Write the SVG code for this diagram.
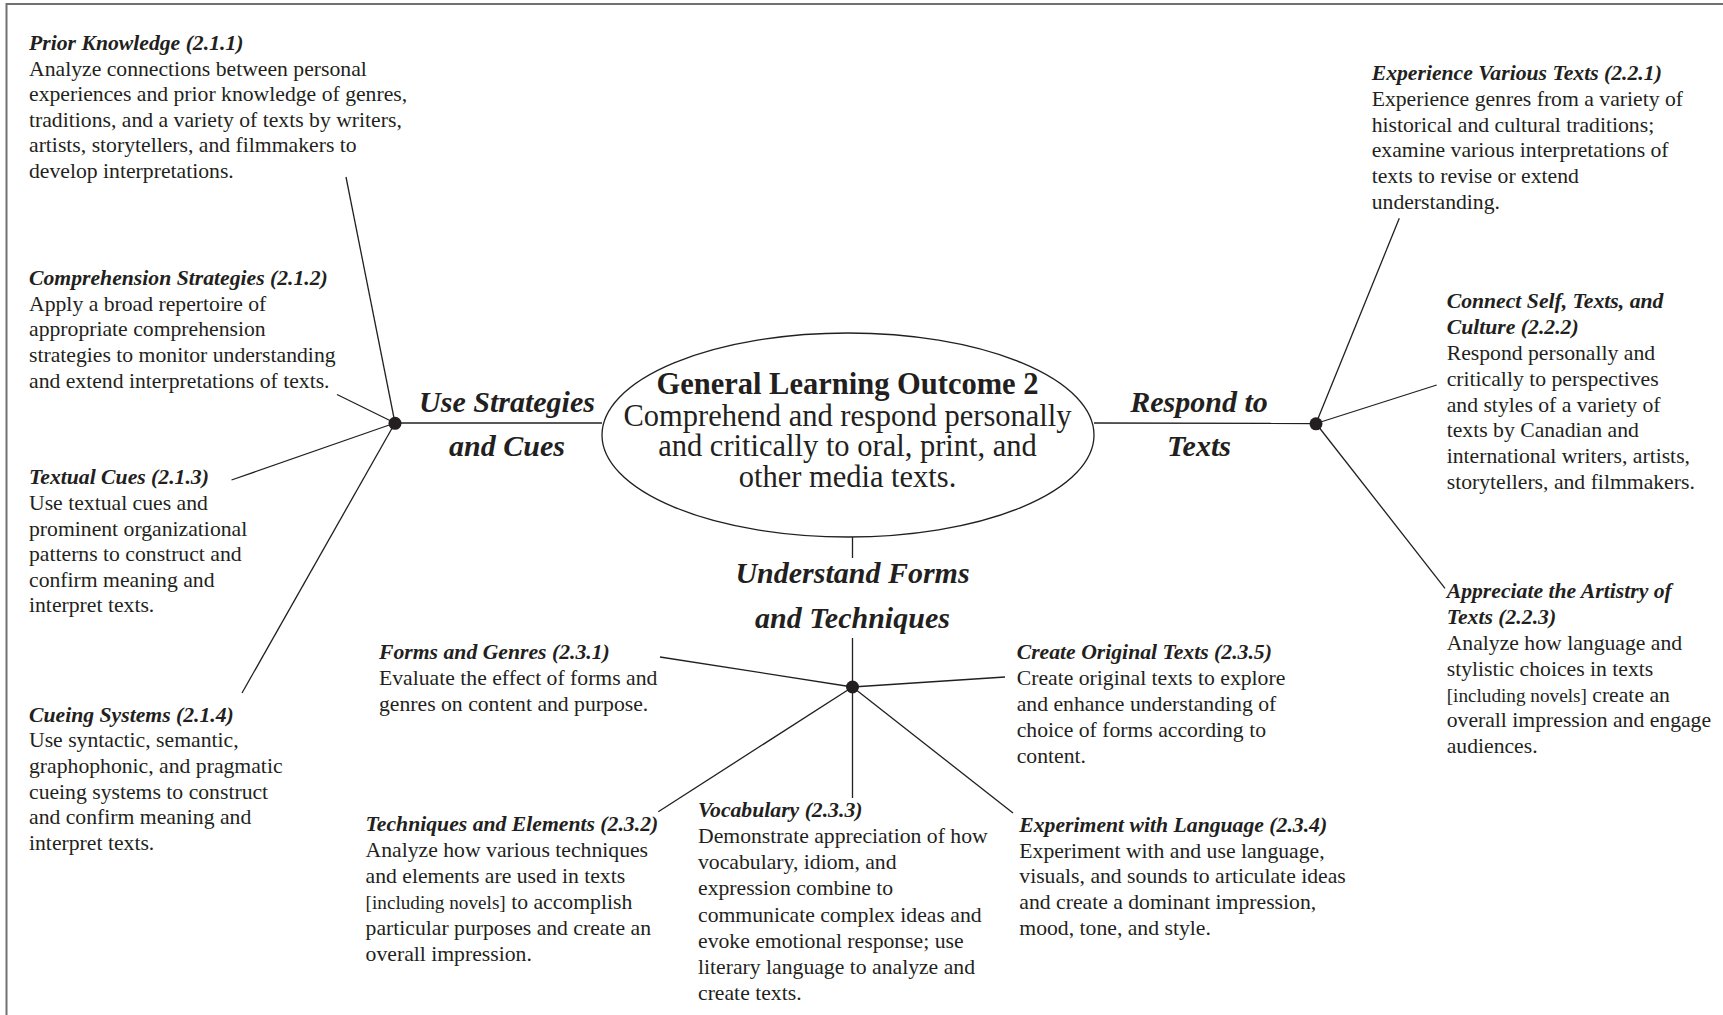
<svg xmlns="http://www.w3.org/2000/svg" width="1723" height="1015" viewBox="0 0 1723 1015">
<style>
text{font-family:"Liberation Serif","Times New Roman",serif;fill:#231f20}
.t{font-size:21.7px;font-weight:bold;font-style:italic}
.b{font-size:21.7px}
.s{font-size:19.2px}
.br{font-size:30px;font-weight:bold;font-style:italic;text-anchor:middle}
.ct{font-size:30.5px;text-anchor:middle}
.ln{stroke:#231f20;stroke-width:1.3;fill:none}
.dot{fill:#231f20}
</style>
<rect x="6.5" y="4" width="1800" height="1100" fill="#fff" stroke="#707070" stroke-width="2"/>

<g id="connectors">
<line class="ln" x1="346" y1="177" x2="395" y2="423"/>
<line class="ln" x1="337" y1="394.5" x2="395" y2="423"/>
<line class="ln" x1="231.5" y1="480" x2="395" y2="423"/>
<line class="ln" x1="242" y1="693" x2="395" y2="423"/>
<line class="ln" x1="395" y1="423" x2="602" y2="423"/>
<line class="ln" x1="1094" y1="423" x2="1316" y2="423.5"/>
<line class="ln" x1="1399.3" y1="218.3" x2="1316" y2="423.5"/>
<line class="ln" x1="1436.7" y1="385" x2="1316" y2="423.5"/>
<line class="ln" x1="1445" y1="588.3" x2="1316" y2="423.5"/>
<line class="ln" x1="852.5" y1="537" x2="852.5" y2="558"/>
<line class="ln" x1="852.5" y1="638" x2="852.5" y2="687"/>
<line class="ln" x1="660" y1="657" x2="852.5" y2="687"/>
<line class="ln" x1="1005" y1="677" x2="852.5" y2="687"/>
<line class="ln" x1="658.3" y1="811.7" x2="852.5" y2="687"/>
<line class="ln" x1="852.5" y1="798" x2="852.5" y2="687"/>
<line class="ln" x1="1013" y1="813" x2="852.5" y2="687"/>
<circle class="dot" cx="395" cy="423.3" r="6.5"/>
<circle class="dot" cx="1316" cy="423.8" r="6.5"/>
<circle class="dot" cx="852.5" cy="687" r="6.5"/>
</g>

<g id="center">
<ellipse cx="848" cy="435" rx="246" ry="102" fill="#fff" stroke="#231f20" stroke-width="1.3"/>
<text class="ct" x="847.5" y="394" font-weight="bold">General Learning Outcome 2</text>
<text class="ct" x="847.5" y="425.5">Comprehend and respond personally</text>
<text class="ct" x="847.5" y="456">and critically to oral, print, and</text>
<text class="ct" x="847.5" y="486.5">other media texts.</text>
</g>

<g id="branch-strategies">
<text class="br" x="507" y="411.7">Use Strategies</text>
<text class="br" x="507" y="456">and Cues</text>
</g>
<g id="branch-respond">
<text class="br" x="1199" y="411.7">Respond to</text>
<text class="br" x="1199" y="456">Texts</text>
</g>
<g id="branch-forms">
<text class="br" x="852.5" y="583">Understand Forms</text>
<text class="br" x="852.5" y="628">and Techniques</text>
</g>

<g id="n211">
<text class="t" x="29" y="50">Prior Knowledge (2.1.1)</text>
<text class="b" x="29" y="75.6">Analyze connections between personal</text>
<text class="b" x="29" y="101.2">experiences and prior knowledge of genres,</text>
<text class="b" x="29" y="126.8">traditions, and a variety of texts by writers,</text>
<text class="b" x="29" y="152.4">artists, storytellers, and filmmakers to</text>
<text class="b" x="29" y="178">develop interpretations.</text>
</g>
<g id="n212">
<text class="t" x="29" y="285">Comprehension Strategies (2.1.2)</text>
<text class="b" x="29" y="310.7">Apply a broad repertoire of</text>
<text class="b" x="29" y="336.3">appropriate comprehension</text>
<text class="b" x="29" y="362">strategies to monitor understanding</text>
<text class="b" x="29" y="387.6">and extend interpretations of texts.</text>
</g>
<g id="n213">
<text class="t" x="29" y="484">Textual Cues (2.1.3)</text>
<text class="b" x="29" y="510">Use textual cues and</text>
<text class="b" x="29" y="535.6">prominent organizational</text>
<text class="b" x="29" y="561.2">patterns to construct and</text>
<text class="b" x="29" y="586.8">confirm meaning and</text>
<text class="b" x="29" y="612.4">interpret texts.</text>
</g>
<g id="n214">
<text class="t" x="29" y="721.7">Cueing Systems (2.1.4)</text>
<text class="b" x="29" y="747.3">Use syntactic, semantic,</text>
<text class="b" x="29" y="772.9">graphophonic, and pragmatic</text>
<text class="b" x="29" y="798.5">cueing systems to construct</text>
<text class="b" x="29" y="824.1">and confirm meaning and</text>
<text class="b" x="29" y="849.7">interpret texts.</text>
</g>

<g id="n221">
<text class="t" x="1371.7" y="80">Experience Various Texts (2.2.1)</text>
<text class="b" x="1371.7" y="105.8">Experience genres from a variety of</text>
<text class="b" x="1371.7" y="131.6">historical and cultural traditions;</text>
<text class="b" x="1371.7" y="157.4">examine various interpretations of</text>
<text class="b" x="1371.7" y="183.2">texts to revise or extend</text>
<text class="b" x="1371.7" y="209">understanding.</text>
</g>
<g id="n222">
<text class="t" x="1446.7" y="308.3">Connect Self, Texts, and</text>
<text class="t" x="1446.7" y="334.1">Culture (2.2.2)</text>
<text class="b" x="1446.7" y="359.9">Respond personally and</text>
<text class="b" x="1446.7" y="385.7">critically to perspectives</text>
<text class="b" x="1446.7" y="411.5">and styles of a variety of</text>
<text class="b" x="1446.7" y="437.3">texts by Canadian and</text>
<text class="b" x="1446.7" y="463.1">international writers, artists,</text>
<text class="b" x="1446.7" y="488.9">storytellers, and filmmakers.</text>
</g>
<g id="n223">
<text class="t" x="1446.7" y="598.3">Appreciate the Artistry of</text>
<text class="t" x="1446.7" y="624.1">Texts (2.2.3)</text>
<text class="b" x="1446.7" y="649.9">Analyze how language and</text>
<text class="b" x="1446.7" y="675.7">stylistic choices in texts</text>
<text class="b" x="1446.7" y="701.5"><tspan class="s">[including novels]</tspan> create an</text>
<text class="b" x="1446.7" y="727.3">overall impression and engage</text>
<text class="b" x="1446.7" y="753.1">audiences.</text>
</g>

<g id="n231">
<text class="t" x="379" y="659">Forms and Genres (2.3.1)</text>
<text class="b" x="379" y="684.8">Evaluate the effect of forms and</text>
<text class="b" x="379" y="710.6">genres on content and purpose.</text>
</g>
<g id="n232">
<text class="t" x="365.6" y="830.7">Techniques and Elements (2.3.2)</text>
<text class="b" x="365.6" y="856.7">Analyze how various techniques</text>
<text class="b" x="365.6" y="882.7">and elements are used in texts</text>
<text class="b" x="365.6" y="908.7"><tspan class="s">[including novels]</tspan> to accomplish</text>
<text class="b" x="365.6" y="934.7">particular purposes and create an</text>
<text class="b" x="365.6" y="960.7">overall impression.</text>
</g>
<g id="n233">
<text class="t" x="698" y="816.7">Vocabulary (2.3.3)</text>
<text class="b" x="698" y="842.9">Demonstrate appreciation of how</text>
<text class="b" x="698" y="869.1">vocabulary, idiom, and</text>
<text class="b" x="698" y="895.3">expression combine to</text>
<text class="b" x="698" y="921.5">communicate complex ideas and</text>
<text class="b" x="698" y="947.7">evoke emotional response; use</text>
<text class="b" x="698" y="973.9">literary language to analyze and</text>
<text class="b" x="698" y="1000.1">create texts.</text>
</g>
<g id="n234">
<text class="t" x="1019.3" y="831.7">Experiment with Language (2.3.4)</text>
<text class="b" x="1019.3" y="857.5">Experiment with and use language,</text>
<text class="b" x="1019.3" y="883.3">visuals, and sounds to articulate ideas</text>
<text class="b" x="1019.3" y="909.1">and create a dominant impression,</text>
<text class="b" x="1019.3" y="934.9">mood, tone, and style.</text>
</g>
<g id="n235">
<text class="t" x="1016.7" y="659.3">Create Original Texts (2.3.5)</text>
<text class="b" x="1016.7" y="685.1">Create original texts to explore</text>
<text class="b" x="1016.7" y="710.9">and enhance understanding of</text>
<text class="b" x="1016.7" y="736.7">choice of forms according to</text>
<text class="b" x="1016.7" y="762.5">content.</text>
</g>
</svg>
